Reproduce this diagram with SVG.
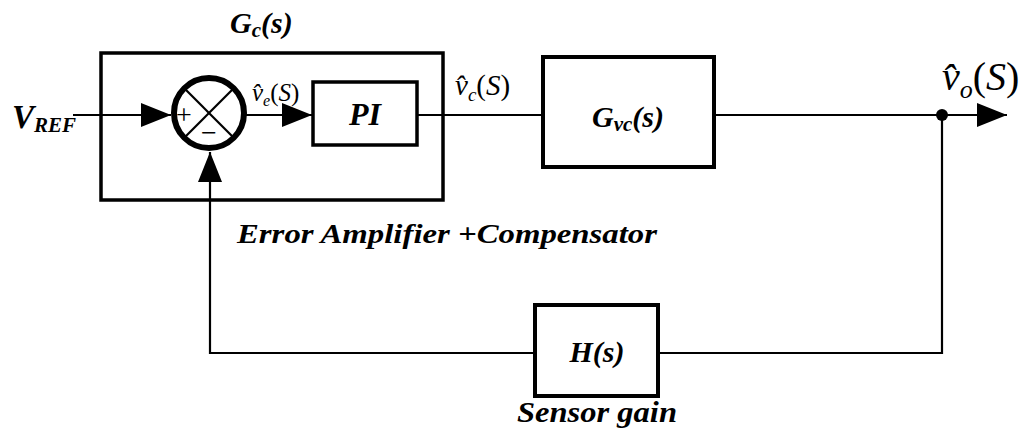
<svg xmlns="http://www.w3.org/2000/svg" width="1028" height="435" viewBox="0 0 1028 435" font-family="Times New Roman, Liberation Serif, serif">
<defs>
<marker id="ah" markerUnits="userSpaceOnUse" markerWidth="32" markerHeight="26" refX="30" refY="12" orient="auto">
<path d="M0,0 L30,12 L0,24 z" fill="#000"/>
</marker>
</defs>
<rect width="1028" height="435" fill="#fff"/>
<g id="connectors" fill="none" stroke="#000" stroke-width="2.2">
<line x1="73" y1="115" x2="171" y2="115" marker-end="url(#ah)"/>
<line x1="246" y1="115" x2="312" y2="115" marker-end="url(#ah)"/>
<line x1="417" y1="115" x2="543" y2="115"/>
<line x1="714" y1="115" x2="1007" y2="115" marker-end="url(#ah)"/>
<polyline points="942,115 942,353 658,353"/>
<polyline points="535,353 210,353 210,152" marker-end="url(#ah)"/>
<circle cx="942" cy="115" r="6" fill="#000" stroke="none"/>
</g>
<g id="Gc">
<rect x="101" y="53" width="342" height="147" fill="none" stroke="#000" stroke-width="3.5"/>
<text x="230" y="33" font-family="Times New Roman, Liberation Serif, serif" font-weight="bold" font-style="italic" font-size="30">G<tspan font-size="21" dy="4">c</tspan><tspan dy="-4">(s)</tspan></text>
<text x="237" y="243" font-family="Times New Roman, Liberation Serif, serif" font-weight="bold" font-style="italic" font-size="28" textLength="420" lengthAdjust="spacingAndGlyphs">Error Amplifier +Compensator</text>
</g>
<g id="vref">
<text x="12" y="128" font-family="Times New Roman, Liberation Serif, serif" font-weight="bold" font-style="italic" font-size="33">V<tspan font-size="21" dy="4">REF</tspan></text>
</g>
<g id="sum">
<circle cx="209" cy="113" r="35" fill="#fff" stroke="#000" stroke-width="6"/>
<line x1="184.3" y1="88.3" x2="233.7" y2="137.7" stroke="#000" stroke-width="2.2"/>
<line x1="233.7" y1="88.3" x2="184.3" y2="137.7" stroke="#000" stroke-width="2.2"/>
<text x="184" y="124" font-family="Times New Roman, Liberation Serif, serif" font-size="28" text-anchor="middle">+</text>
<text x="209" y="142" font-family="Times New Roman, Liberation Serif, serif" font-size="28" text-anchor="middle">&#8722;</text>
</g>
<g id="ve">
<text x="252" y="101" font-family="Times New Roman, Liberation Serif, serif" font-style="italic" font-size="25">v&#770;<tspan font-size="16" dy="5">e</tspan><tspan dy="-5" font-style="normal">(</tspan><tspan>S</tspan><tspan font-style="normal">)</tspan></text>
</g>
<g id="PI">
<rect x="313" y="82" width="104" height="63" fill="#fff" stroke="#000" stroke-width="3.5"/>
<text x="365" y="125" font-family="Times New Roman, Liberation Serif, serif" font-weight="bold" font-style="italic" font-size="32" text-anchor="middle">PI</text>
</g>
<g id="vc">
<text x="455" y="95" font-family="Times New Roman, Liberation Serif, serif" font-style="italic" font-size="29">v&#770;<tspan font-size="19" dy="6">c</tspan><tspan dy="-6" font-style="normal">(</tspan><tspan>S</tspan><tspan font-style="normal">)</tspan></text>
</g>
<g id="Gvc">
<rect x="543" y="57" width="171" height="110" fill="#fff" stroke="#000" stroke-width="4"/>
<text x="628" y="127" font-family="Times New Roman, Liberation Serif, serif" font-weight="bold" font-style="italic" font-size="30" text-anchor="middle">G<tspan font-size="21" dy="4">vc</tspan><tspan dy="-4">(s)</tspan></text>
</g>
<g id="vo">
<text x="942" y="90" font-family="Times New Roman, Liberation Serif, serif" font-style="italic" font-size="40">v&#770;<tspan font-size="26" dy="8">o</tspan><tspan dy="-8" font-style="normal">(</tspan><tspan>S</tspan><tspan font-style="normal">)</tspan></text>
</g>
<g id="H">
<rect x="535" y="305" width="123" height="91" fill="#fff" stroke="#000" stroke-width="4"/>
<text x="597" y="362" font-family="Times New Roman, Liberation Serif, serif" font-weight="bold" font-style="italic" font-size="30" text-anchor="middle">H(s)</text>
<text x="517" y="422" font-family="Times New Roman, Liberation Serif, serif" font-weight="bold" font-style="italic" font-size="30" textLength="160" lengthAdjust="spacingAndGlyphs">Sensor gain</text>
</g>
</svg>
